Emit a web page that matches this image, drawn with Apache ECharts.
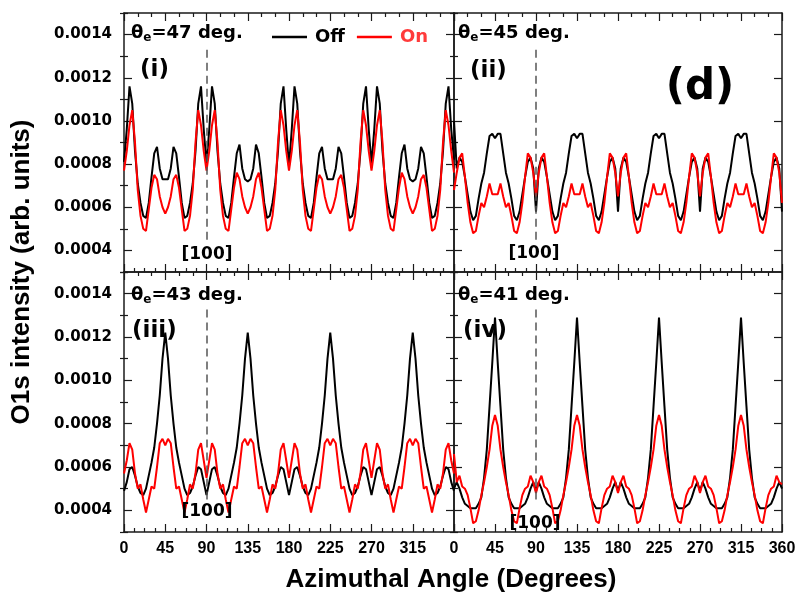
<!DOCTYPE html>
<html>
<head>
<meta charset="utf-8">
<script src="https://cdn.jsdelivr.net/npm/echarts@6/dist/echarts.min.js"></script>
<style>
  html, body { margin: 0; padding: 0; background: #fff; }
  #chart { width: 799px; height: 604px; }
</style>
</head>
<body>
<div id="chart"></div>
<script>
// Azimuthal angle grid (degrees), shared by every curve
const angles = [
  0,3,6,9,12,15,18,21,24,27,30,33,36,39,42,45,48,51,54,57,60,63,66,69,72,75,78,81,84,87,90,
  93,96,99,102,105,108,111,114,117,120,123,126,129,132,135,138,141,144,147,150,153,156,159,162,165,168,171,174,177,180,
  183,186,189,192,195,198,201,204,207,210,213,216,219,222,225,228,231,234,237,240,243,246,249,252,255,258,261,264,267,270,
  273,276,279,282,285,288,291,294,297,300,303,306,309,312,315,318,321,324,327,330,333,336,339,342,345,348,351,354,357,360
];

// (i) theta_e = 47 deg.
const offI = [0.00081,
  0.00096,0.00116,0.00108,0.00086,0.00071,0.00062,0.00056,0.00055,0.00062,0.00074,0.00085,0.00088,0.00078,0.00073,0.00073,0.00073,0.00078,0.00088,0.00085,0.00074,0.00062,0.00055,0.00056,0.00062,0.00071,0.00086,0.00108,0.00116,0.00096,0.00080,
  0.00096,0.00116,0.00108,0.00086,0.00071,0.00062,0.00056,0.00055,0.00062,0.00074,0.00085,0.00089,0.00078,0.00073,0.00072,0.00073,0.00078,0.00089,0.00085,0.00074,0.00062,0.00055,0.00056,0.00062,0.00071,0.00086,0.00108,0.00116,0.00096,0.00079,
  0.00096,0.00116,0.00108,0.00086,0.00071,0.00062,0.00056,0.00055,0.00062,0.00074,0.00085,0.00088,0.00078,0.00073,0.00073,0.00073,0.00078,0.00088,0.00085,0.00074,0.00062,0.00055,0.00056,0.00062,0.00071,0.00086,0.00108,0.00116,0.00096,0.00080,
  0.00096,0.00116,0.00108,0.00086,0.00071,0.00062,0.00056,0.00055,0.00062,0.00074,0.00085,0.00089,0.00078,0.00073,0.00072,0.00073,0.00078,0.00088,0.00085,0.00074,0.00062,0.00055,0.00056,0.00062,0.00071,0.00086,0.00108,0.00116,0.00096,0.00082];
const onI = [0.00077,
  0.00086,0.00098,0.00105,0.00090,0.00068,0.00056,0.00050,0.00049,0.00059,0.00069,0.00075,0.00073,0.00065,0.00060,0.00057,0.00060,0.00065,0.00073,0.00075,0.00069,0.00059,0.00049,0.00050,0.00056,0.00068,0.00090,0.00105,0.00098,0.00086,0.00077,
  0.00086,0.00098,0.00105,0.00090,0.00068,0.00056,0.00050,0.00049,0.00059,0.00069,0.00076,0.00073,0.00065,0.00060,0.00057,0.00060,0.00065,0.00073,0.00076,0.00069,0.00059,0.00049,0.00050,0.00056,0.00068,0.00090,0.00105,0.00098,0.00086,0.00077,
  0.00086,0.00098,0.00105,0.00090,0.00068,0.00056,0.00050,0.00049,0.00059,0.00069,0.00075,0.00073,0.00065,0.00060,0.00057,0.00060,0.00065,0.00073,0.00075,0.00069,0.00059,0.00049,0.00050,0.00056,0.00068,0.00090,0.00105,0.00098,0.00086,0.00077,
  0.00086,0.00098,0.00105,0.00090,0.00068,0.00056,0.00050,0.00049,0.00059,0.00069,0.00076,0.00073,0.00065,0.00060,0.00057,0.00060,0.00065,0.00073,0.00075,0.00069,0.00059,0.00049,0.00050,0.00056,0.00068,0.00090,0.00105,0.00098,0.00086,0.00076];

// (ii) theta_e = 45 deg.
const offII = [0.00100,
  0.00078,0.00083,0.00081,0.00074,0.00066,0.00058,0.00054,0.00056,0.00064,0.00071,0.00076,0.00085,0.00093,0.00094,0.00092,0.00094,0.00094,0.00085,0.00076,0.00071,0.00064,0.00056,0.00054,0.00058,0.00066,0.00074,0.00081,0.00083,0.00078,0.00058,
  0.00078,0.00083,0.00081,0.00074,0.00066,0.00058,0.00054,0.00056,0.00064,0.00071,0.00076,0.00085,0.00093,0.00094,0.00092,0.00094,0.00094,0.00085,0.00076,0.00071,0.00064,0.00056,0.00054,0.00058,0.00066,0.00074,0.00081,0.00083,0.00078,0.00058,
  0.00078,0.00083,0.00081,0.00074,0.00066,0.00058,0.00054,0.00056,0.00064,0.00071,0.00076,0.00085,0.00093,0.00094,0.00092,0.00094,0.00094,0.00085,0.00076,0.00071,0.00064,0.00056,0.00054,0.00058,0.00066,0.00074,0.00081,0.00083,0.00078,0.00058,
  0.00078,0.00083,0.00081,0.00074,0.00066,0.00058,0.00054,0.00056,0.00064,0.00071,0.00076,0.00085,0.00093,0.00094,0.00092,0.00094,0.00094,0.00085,0.00076,0.00071,0.00064,0.00056,0.00054,0.00058,0.00066,0.00074,0.00081,0.00083,0.00078,0.00058];
const onII = [0.00068,
  0.00076,0.00083,0.00085,0.00074,0.00062,0.00053,0.00048,0.00049,0.00056,0.00062,0.00060,0.00065,0.00071,0.00066,0.00066,0.00066,0.00071,0.00065,0.00060,0.00062,0.00056,0.00049,0.00048,0.00053,0.00062,0.00074,0.00085,0.00083,0.00076,0.00065,
  0.00076,0.00083,0.00085,0.00074,0.00062,0.00053,0.00048,0.00049,0.00056,0.00062,0.00060,0.00065,0.00071,0.00066,0.00066,0.00066,0.00071,0.00065,0.00060,0.00062,0.00056,0.00049,0.00048,0.00053,0.00062,0.00074,0.00085,0.00083,0.00076,0.00065,
  0.00076,0.00083,0.00085,0.00074,0.00062,0.00053,0.00048,0.00049,0.00056,0.00062,0.00060,0.00065,0.00071,0.00066,0.00066,0.00066,0.00071,0.00065,0.00060,0.00062,0.00056,0.00049,0.00048,0.00053,0.00062,0.00074,0.00085,0.00083,0.00076,0.00065,
  0.00076,0.00083,0.00085,0.00074,0.00062,0.00053,0.00048,0.00049,0.00056,0.00062,0.00060,0.00065,0.00071,0.00066,0.00066,0.00066,0.00071,0.00065,0.00060,0.00062,0.00056,0.00049,0.00048,0.00053,0.00062,0.00074,0.00085,0.00083,0.00076,0.00062];

// (iii) theta_e = 43 deg.
const offIII = [0.00049,
  0.00053,0.00059,0.00060,0.00056,0.00051,0.00048,0.00047,0.00050,0.00056,0.00062,0.00069,0.00080,0.00093,0.00110,0.00122,0.00110,0.00093,0.00080,0.00069,0.00062,0.00056,0.00050,0.00047,0.00048,0.00051,0.00056,0.00060,0.00059,0.00053,0.00047,
  0.00053,0.00059,0.00060,0.00056,0.00051,0.00048,0.00047,0.00050,0.00056,0.00062,0.00069,0.00080,0.00093,0.00110,0.00122,0.00110,0.00093,0.00080,0.00069,0.00062,0.00056,0.00050,0.00047,0.00048,0.00051,0.00056,0.00060,0.00059,0.00053,0.00047,
  0.00053,0.00059,0.00060,0.00056,0.00051,0.00048,0.00047,0.00050,0.00056,0.00062,0.00069,0.00080,0.00093,0.00110,0.00122,0.00110,0.00093,0.00080,0.00069,0.00062,0.00056,0.00050,0.00047,0.00048,0.00051,0.00056,0.00060,0.00059,0.00053,0.00047,
  0.00053,0.00059,0.00060,0.00056,0.00051,0.00048,0.00047,0.00050,0.00056,0.00062,0.00069,0.00080,0.00093,0.00110,0.00122,0.00110,0.00093,0.00080,0.00069,0.00062,0.00056,0.00050,0.00047,0.00048,0.00051,0.00056,0.00060,0.00059,0.00053,0.00049];
const onIII = [0.00057,
  0.00063,0.00071,0.00068,0.00057,0.00050,0.00052,0.00045,0.00039,0.00045,0.00051,0.00050,0.00060,0.00071,0.00073,0.00070,0.00073,0.00071,0.00060,0.00050,0.00051,0.00045,0.00039,0.00045,0.00052,0.00050,0.00057,0.00068,0.00071,0.00063,0.00055,
  0.00063,0.00071,0.00068,0.00057,0.00050,0.00052,0.00045,0.00039,0.00045,0.00051,0.00050,0.00060,0.00071,0.00073,0.00070,0.00073,0.00071,0.00060,0.00050,0.00051,0.00045,0.00039,0.00045,0.00052,0.00050,0.00057,0.00068,0.00071,0.00063,0.00055,
  0.00063,0.00071,0.00068,0.00057,0.00050,0.00052,0.00045,0.00039,0.00045,0.00051,0.00050,0.00060,0.00071,0.00073,0.00070,0.00073,0.00071,0.00060,0.00050,0.00051,0.00045,0.00039,0.00045,0.00052,0.00050,0.00057,0.00068,0.00071,0.00063,0.00055,
  0.00063,0.00071,0.00068,0.00057,0.00050,0.00052,0.00045,0.00039,0.00045,0.00051,0.00050,0.00060,0.00071,0.00073,0.00070,0.00073,0.00071,0.00060,0.00050,0.00051,0.00045,0.00039,0.00045,0.00052,0.00050,0.00057,0.00068,0.00071,0.00063,0.00057];

// (iv) theta_e = 41 deg.
const offIV = [0.00050,
  0.00053,0.00050,0.00046,0.00043,0.00042,0.00041,0.00041,0.00041,0.00043,0.00046,0.00055,0.00068,0.00088,0.00108,0.00129,0.00108,0.00088,0.00068,0.00055,0.00046,0.00043,0.00041,0.00041,0.00041,0.00042,0.00043,0.00046,0.00050,0.00053,0.00049,
  0.00053,0.00050,0.00046,0.00043,0.00042,0.00041,0.00041,0.00041,0.00043,0.00046,0.00055,0.00068,0.00088,0.00108,0.00129,0.00108,0.00088,0.00068,0.00055,0.00046,0.00043,0.00041,0.00041,0.00041,0.00042,0.00043,0.00046,0.00050,0.00053,0.00049,
  0.00053,0.00050,0.00046,0.00043,0.00042,0.00041,0.00041,0.00041,0.00043,0.00046,0.00055,0.00068,0.00088,0.00108,0.00129,0.00108,0.00088,0.00068,0.00055,0.00046,0.00043,0.00041,0.00041,0.00041,0.00042,0.00043,0.00046,0.00050,0.00053,0.00049,
  0.00053,0.00050,0.00046,0.00043,0.00042,0.00041,0.00041,0.00041,0.00043,0.00046,0.00055,0.00068,0.00088,0.00108,0.00129,0.00108,0.00088,0.00068,0.00055,0.00046,0.00043,0.00041,0.00041,0.00041,0.00042,0.00043,0.00046,0.00050,0.00053,0.00050];
const onIV = [0.00066,
  0.00053,0.00056,0.00051,0.00050,0.00047,0.00041,0.00034,0.00035,0.00040,0.00047,0.00053,0.00060,0.00068,0.00079,0.00084,0.00079,0.00068,0.00060,0.00053,0.00047,0.00040,0.00035,0.00034,0.00041,0.00047,0.00050,0.00051,0.00056,0.00053,0.00048,
  0.00053,0.00056,0.00051,0.00050,0.00047,0.00041,0.00034,0.00035,0.00040,0.00047,0.00053,0.00060,0.00068,0.00079,0.00084,0.00079,0.00068,0.00060,0.00053,0.00047,0.00040,0.00035,0.00034,0.00041,0.00047,0.00050,0.00051,0.00056,0.00053,0.00048,
  0.00053,0.00056,0.00051,0.00050,0.00047,0.00041,0.00034,0.00035,0.00040,0.00047,0.00053,0.00060,0.00068,0.00079,0.00084,0.00079,0.00068,0.00060,0.00053,0.00047,0.00040,0.00035,0.00034,0.00041,0.00047,0.00050,0.00051,0.00056,0.00053,0.00048,
  0.00053,0.00056,0.00051,0.00050,0.00047,0.00041,0.00034,0.00035,0.00040,0.00047,0.00053,0.00060,0.00068,0.00079,0.00084,0.00079,0.00068,0.00060,0.00053,0.00047,0.00040,0.00035,0.00034,0.00041,0.00047,0.00050,0.00051,0.00056,0.00053,0.00052];

const offSeries = [offI, offII, offIII, offIV];
const onSeries = [onI, onII, onIII, onIV];
const emissionAngles = ['47', '45', '43', '41'];
const panelTags = ['(i)', '(ii)', '(iii)', '(iv)'];
const directionLabel = '[100]';
const directionAngle = 90;
const yMajorTicks = [0.0004, 0.0006, 0.0008, 0.0010, 0.0012, 0.0014];
const yMinorTicks = [0.0003, 0.0005, 0.0007, 0.0009, 0.0011, 0.0013, 0.0015];

const BOLD = '"DejaVu Sans", Verdana, sans-serif';
const ARIAL = '"Liberation Sans", Arial, sans-serif';
const AXIS = '#1a1a1a';
const RED = '#ff0000';

// 2 x 2 panel layout (pixels)
const grids = [
  { left: 124, top: 13,  width: 330, height: 259 },
  { left: 454, top: 13,  width: 328, height: 259 },
  { left: 124, top: 272, width: 330, height: 260 },
  { left: 454, top: 272, width: 328, height: 260 }
];

const xAxes = [];
const yAxes = [];
grids.forEach((g, i) => {
  const bottomRow = i >= 2;
  const leftCol = i % 2 === 0;
  const xBase = {
    gridIndex: i, type: 'value', min: 0, max: 360, interval: 45,
    axisLine: { show: true, onZero: false, lineStyle: { color: AXIS, width: 1.5 } },
    axisTick: { show: true, inside: true, length: 8, lineStyle: { color: AXIS, width: 1.2 } },
    splitLine: { show: false }, minorSplitLine: { show: false }
  };
  xAxes.push(Object.assign({}, xBase, {
    position: 'bottom',
    minorTick: { show: true, splitNumber: 4, length: 4, lineStyle: { color: AXIS, width: 1.2 } },
    axisLabel: {
      show: bottomRow, margin: 9, color: '#000', fontFamily: ARIAL, fontWeight: 'bold', fontSize: 16,
      formatter: v => (leftCol && v === 360) ? '' : String(v)
    }
  }));
  xAxes.push(Object.assign({}, xBase, {
    position: 'top',
    minorTick: { show: true, splitNumber: 3, length: 4, lineStyle: { color: AXIS, width: 1.2 } },
    axisLabel: { show: false }
  }));
  ['left', 'right'].forEach(side => {
    yAxes.push({
      gridIndex: i, type: 'value', position: side, min: 0.0003, max: 0.0015,
      axisLine: { show: true, onZero: false, lineStyle: { color: AXIS, width: 1.5 } },
      axisTick: { show: true, inside: true, length: 8, customValues: yMajorTicks, lineStyle: { color: AXIS, width: 1.2 } },
      axisLabel: {
        show: side === 'left' && leftCol, customValues: yMajorTicks, margin: 12,
        color: '#000', fontFamily: BOLD, fontWeight: 'bold', fontSize: 15,
        formatter: v => v.toFixed(4)
      },
      splitLine: { show: false }
    });
    yAxes.push({
      gridIndex: i, type: 'value', position: side, min: 0.0003, max: 0.0015,
      axisLine: { show: false },
      axisTick: { show: true, inside: true, length: 4, customValues: yMinorTicks, lineStyle: { color: AXIS, width: 1.2 } },
      axisLabel: { show: false },
      splitLine: { show: false }
    });
  });
});

const series = [];
grids.forEach((g, i) => {
  series.push({
    type: 'line', name: 'Off', xAxisIndex: i * 2, yAxisIndex: i * 4,
    data: angles.map((a, k) => [a, offSeries[i][k]]),
    symbol: 'none', z: 2,
    lineStyle: { color: '#000', width: 2 }, itemStyle: { color: '#000' },
    markLine: {
      silent: true, symbol: ['none', 'none'], label: { show: false },
      lineStyle: { type: [8, 5], color: '#555', width: 1.5 },
      data: [[{ coord: [directionAngle, 0.00045] }, { coord: [directionAngle, 0.00135] }]]
    }
  });
  series.push({
    type: 'line', name: 'On', xAxisIndex: i * 2, yAxisIndex: i * 4,
    data: angles.map((a, k) => [a, onSeries[i][k]]),
    symbol: 'none', z: 3,
    lineStyle: { color: RED, width: 2 }, itemStyle: { color: RED }
  });
});

// annotation text placement
const thetaPos = [[131, 33], [458, 33], [131, 295], [458, 295]];
const tagPos = [[140, 70], [470, 71], [132, 331], [463, 331]];
const dirPos = [[207, 255], [534, 254], [207, 512], [535, 524]];

const graphic = [];
grids.forEach((g, i) => {
  graphic.push({
    type: 'text', x: thetaPos[i][0], y: thetaPos[i][1], z: 10,
    style: {
      text: '{a|θ}{b|e}{a|=' + emissionAngles[i] + ' deg.}',
      textVerticalAlign: 'middle',
      rich: {
        a: { fontFamily: BOLD, fontWeight: 'bold', fontSize: 18, lineHeight: 22, fill: '#000' },
        b: { fontFamily: BOLD, fontWeight: 'bold', fontSize: 12, lineHeight: 10, verticalAlign: 'bottom', fill: '#000' }
      }
    }
  });
  graphic.push({
    type: 'text', x: tagPos[i][0], y: tagPos[i][1], z: 10,
    style: { text: panelTags[i], font: 'bold 23px ' + BOLD, fill: '#000', textVerticalAlign: 'middle' }
  });
  graphic.push({
    type: 'text', x: dirPos[i][0], y: dirPos[i][1], z: 10,
    style: { text: directionLabel, font: 'bold 17px ' + BOLD, fill: '#000', textAlign: 'center', textVerticalAlign: 'middle' }
  });
});
graphic.push({
  type: 'text', x: 700, y: 88, z: 10,
  style: { text: '(d)', font: 'bold 42px ' + BOLD, fill: '#000', textAlign: 'center', textVerticalAlign: 'middle' }
});
graphic.push({
  type: 'text', x: 451, y: 580,
  style: { text: 'Azimuthal Angle (Degrees)', font: 'bold 26px ' + ARIAL, fill: '#000', textAlign: 'center', textVerticalAlign: 'middle' }
});
graphic.push({
  type: 'text', x: 22, y: 272, rotation: Math.PI / 2,
  style: { text: 'O1s intensity (arb. units)', font: 'bold 26px ' + ARIAL, fill: '#000', textAlign: 'center', textVerticalAlign: 'middle' }
});

const chart = echarts.init(document.getElementById('chart'), null, { renderer: 'canvas' });
chart.setOption({
  animation: false,
  backgroundColor: '#fff',
  grid: grids.map(g => Object.assign({ containLabel: false }, g)),
  xAxis: xAxes,
  yAxis: yAxes,
  legend: {
    left: 267, top: 23, icon: 'rect', itemWidth: 35, itemHeight: 2.5, itemGap: 12, selectedMode: false,
    textStyle: { fontFamily: BOLD, fontWeight: 'bold', fontSize: 18, padding: [0, 0, 0, 3] },
    data: [
      { name: 'Off', textStyle: { color: '#000' } },
      { name: 'On', textStyle: { color: '#ff3b3b' } }
    ]
  },
  graphic: graphic,
  series: series
});
</script>
</body>
</html>
